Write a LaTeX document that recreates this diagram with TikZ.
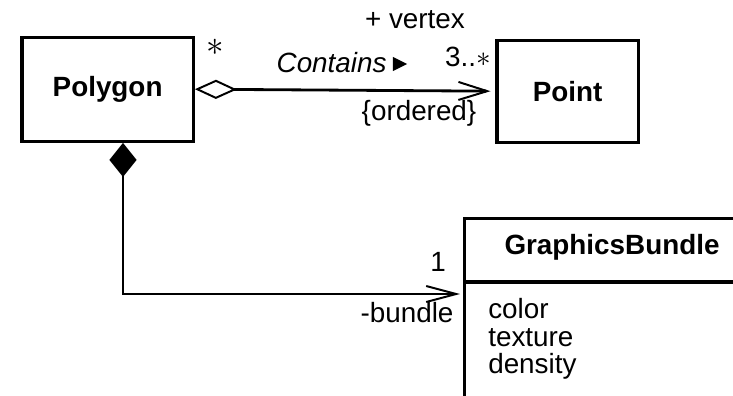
\documentclass[tikz,border=0pt]{standalone}
\usepackage{fontspec}
\setmainfont{Liberation Sans}
\usetikzlibrary{arrows.meta,shapes.geometric}

\begin{document}
\begin{tikzpicture}[scale=1.0,
  every node/.style={font=\fontsize{19.8}{19.6}\selectfont},
  classbox/.style={draw, line width=2.4pt, minimum width=4.28cm, minimum height=2.6cm,
    font=\fontsize{19.8}{19.6}\selectfont\bfseries},
  assoc/.style={line width=2pt, line join=miter}]
  \clip (0,0) rectangle (18.325,-9.9);
  \node[classbox] (polygon) at (2.69,-2.23) {Polygon};
  \node[classbox, minimum width=3.53cm, minimum height=2.55cm] (point) at (14.19,-2.28) {Point};
  \node[classbox, anchor=north west, minimum width=8cm, minimum height=6cm] (bundle) at (11.575,-5.425) {};
  \draw[line width=2.4pt] (11.575,-7.05) -- (18.5,-7.05);
  \node[font=\fontsize{19.8}{19.6}\selectfont\bfseries] (bundlename) at (15.3,-6.175) {GraphicsBundle};
  \node[anchor=north west, align=left, inner sep=0pt] (attrs) at (12.2,-7.45) {color\\texture\\density};
  \draw[assoc, {Diamond[open,length=1.05cm,width=0.48cm,line width=1.4pt]}-{Straight Barb[length=0.72cm,width=0.45cm,line width=1.4pt]},
    shorten >=0.12cm] (polygon.east) -- (point.west);
  \coordinate (bundlein) at (11.575,-7.35);
  \draw[assoc, {Diamond[length=0.85cm,width=0.68cm]}-{Straight Barb[length=0.75cm,width=0.4cm,line width=1.4pt]},
    shorten >=0.075cm] ([xshift=0.385cm]polygon.south) |- (bundlein);
  \node[font=\fontsize{30}{30}\selectfont] (aggstar) at (5.375,-1.175) {$\ast$};
  \node (vertexrole) at (10.375,-0.5) {+ vertex};
  \node (vertexmult) at (11.7,-1.425) {3..$\ast$};
  \node[font=\fontsize{19.8}{19.6}\selectfont\itshape] (contains) at (8.29,-1.575) {Contains};
  \node[isosceles triangle, isosceles triangle stretches, fill, inner sep=0pt,
    minimum width=0.36cm, minimum height=0.36cm] (dir) at (9.93,-1.6) {};
  \node (ordered) at (10.475,-2.825) {\{ordered\}};
  \node (bundlemult) at (10.95,-6.55) {1};
  \node (bundlerole) at (10.175,-7.825) {-bundle};
\end{tikzpicture}
\end{document}
